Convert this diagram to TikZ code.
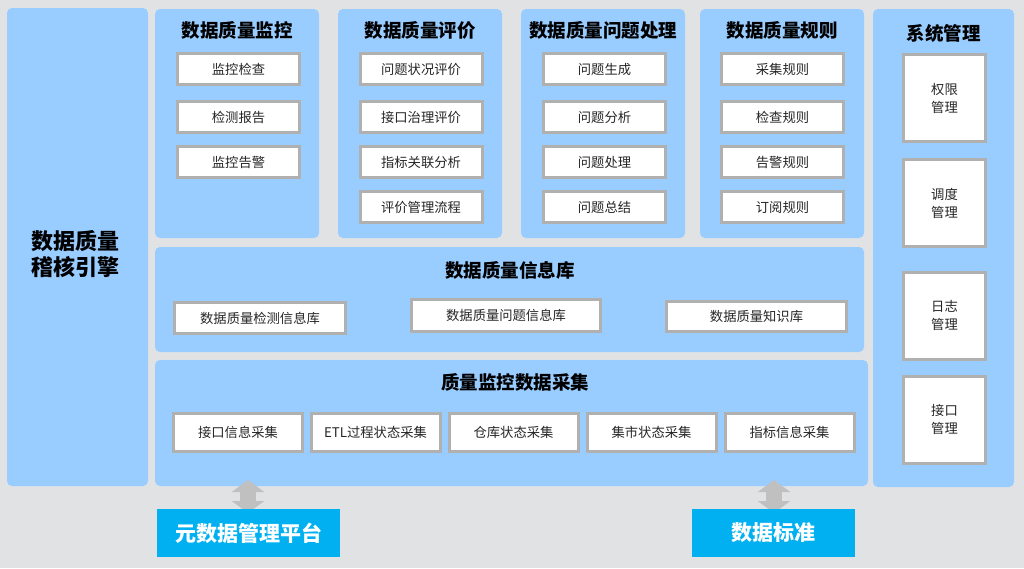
\documentclass[tikz,border=0pt]{standalone}
\usepackage{fontspec}
\setmainfont{Noto Sans CJK SC}
\usepackage{tikz}
\usetikzlibrary{positioning,arrows.meta}
\definecolor{fondgris}{HTML}{E1E2E4}
\definecolor{bleuclair}{HTML}{99CCFF}
\definecolor{bordgris}{HTML}{B0B0B0}
\definecolor{bleuvif}{HTML}{00B0F0}
\definecolor{flechegris}{HTML}{C0C0C0}
\tikzset{
  pnl_b/.style = {rectangle, fill=bleuclair, rounded corners=5pt,
    inner sep=0pt},% panneau bleu
  pnl_t/.style = {inner sep=0pt, align=center,
    font=\fontsize{18.5}{22}\selectfont\bfseries},% titre de panneau
  box_w/.style = {rectangle, draw=bordgris, fill=white, line width=3pt,
    inner sep=0pt, align=center, text=black!85,
    font=\fontsize{13.3}{18}\selectfont},% case blanche
  box_b/.style = {rectangle, fill=bleuvif, text=white, inner sep=0pt,
    minimum height=48pt, font=\fontsize{21}{24}\selectfont\bfseries},
  dbl_a/.style = {flechegris, line width=16pt,
    {Triangle[width=32pt,length=12pt]}-{Triangle[width=32pt,length=12pt]}}
}

\begin{document}
\begin{tikzpicture}[x=1pt,y=-1pt]
\fill[fondgris] (0,0) rectangle (1024,568);
\useasboundingbox (0,0) rectangle (1024,568);

% panneaux
\node [pnl_b, minimum width=141pt, minimum height=478pt] (engine) at (77.5,247) {};
\node [pnl_b, minimum width=164pt, minimum height=229pt] (monitor) at (237,123.5) {};
\node [pnl_b, minimum width=164pt, minimum height=229pt] (evaluate) at (420,123.5) {};
\node [pnl_b, minimum width=164pt, minimum height=229pt] (issue) at (603,123.5) {};
\node [pnl_b, minimum width=164pt, minimum height=229pt] (rules) at (782,123.5) {};
\node [pnl_b, minimum width=141pt, minimum height=478pt] (sysmgr) at (943.5,248) {};
\node [pnl_b, minimum width=709pt, minimum height=105pt] (infolib) at (509.5,299.5) {};
\node [pnl_b, minimum width=713pt, minimum height=126pt] (collect) at (511.5,423) {};

% titres
\node [pnl_t, font=\fontsize{22}{26}\selectfont\bfseries] (engineT) at (75,254) {数据质量\\稽核引擎};
\node [pnl_t] (monitorT) at (237,30) {数据质量监控};
\node [pnl_t] (evaluateT) at (420,30) {数据质量评价};
\node [pnl_t] (issueT) at (603,30) {数据质量问题处理};
\node [pnl_t] (rulesT) at (782,30) {数据质量规则};
\node [pnl_t] (sysmgrT) at (943.5,33) {系统管理};
\node [pnl_t] (infolibT) at (510,270) {数据质量信息库};
\node [pnl_t] (collectT) at (515,382) {质量监控数据采集};

% colonnes du haut
\tikzset{every node/.append style={minimum height=31pt}}
\node [box_w, minimum width=122pt] (mon1) at (238.5,69) {监控检查};
\node [box_w, minimum width=122pt] (mon2) at (238.5,117) {检测报告};
\node [box_w, minimum width=122pt] (mon3) at (238.5,162) {监控告警};

\node [box_w, minimum width=122pt] (eva1) at (421,69) {问题状况评价};
\node [box_w, minimum width=122pt] (eva2) at (421,117) {接口治理评价};
\node [box_w, minimum width=122pt] (eva3) at (421,162) {指标关联分析};
\node [box_w, minimum width=122pt] (eva4) at (421,207) {评价管理流程};

\node [box_w, minimum width=122pt] (iss1) at (604.5,69) {问题生成};
\node [box_w, minimum width=122pt] (iss2) at (604.5,117) {问题分析};
\node [box_w, minimum width=122pt] (iss3) at (604.5,162) {问题处理};
\node [box_w, minimum width=122pt] (iss4) at (604.5,207) {问题总结};

\node [box_w, minimum width=122pt] (rul1) at (782.5,69) {采集规则};
\node [box_w, minimum width=122pt] (rul2) at (782.5,117) {检查规则};
\node [box_w, minimum width=122pt] (rul3) at (782.5,162) {告警规则};
\node [box_w, minimum width=122pt] (rul4) at (782.5,207) {订阅规则};

% systeme
\node [box_w, minimum width=82pt, minimum height=87pt] (sys1) at (944.5,98) {权限\\管理};
\node [box_w, minimum width=82pt, minimum height=87pt] (sys2) at (944.5,203) {调度\\管理};
\node [box_w, minimum width=82pt, minimum height=87pt] (sys3) at (944.5,315.5) {日志\\管理};
\node [box_w, minimum width=82pt, minimum height=87pt] (sys4) at (944.5,419.5) {接口\\管理};

% bibliotheques
\node [box_w, minimum width=171pt] (lib1) at (260,318) {数据质量检测信息库};
\node [box_w, minimum width=189pt, minimum height=32pt] (lib2) at (506,315.5) {数据质量问题信息库};
\node [box_w, minimum width=180pt, minimum height=30pt] (lib3) at (756.5,316.5) {数据质量知识库};

% collecte
\node [box_w, minimum width=129pt, minimum height=38pt] (col1) at (238,432.5) {接口信息采集};
\node [box_w, minimum width=129pt, minimum height=38pt] (col2) at (375.5,432.5) {ETL过程状态采集};
\node [box_w, minimum width=129pt, minimum height=38pt] (col3) at (513.5,432.5) {仓库状态采集};
\node [box_w, minimum width=129pt, minimum height=38pt] (col4) at (651.5,432.5) {集市状态采集};
\node [box_w, minimum width=129pt, minimum height=38pt] (col5) at (789.5,432.5) {指标信息采集};

% sources
\coordinate (metaTop) at (248,480);
\coordinate (stdTop) at (774,480);
\draw [dbl_a] (248,513) -- (metaTop);
\draw [dbl_a] (774,513) -- (stdTop);
\node [box_b, minimum width=183pt] (meta) at (248.5,533) {元数据管理平台};
\node [box_b, minimum width=163pt] (std) at (773.5,533) {数据标准};
\end{tikzpicture}
\end{document}
